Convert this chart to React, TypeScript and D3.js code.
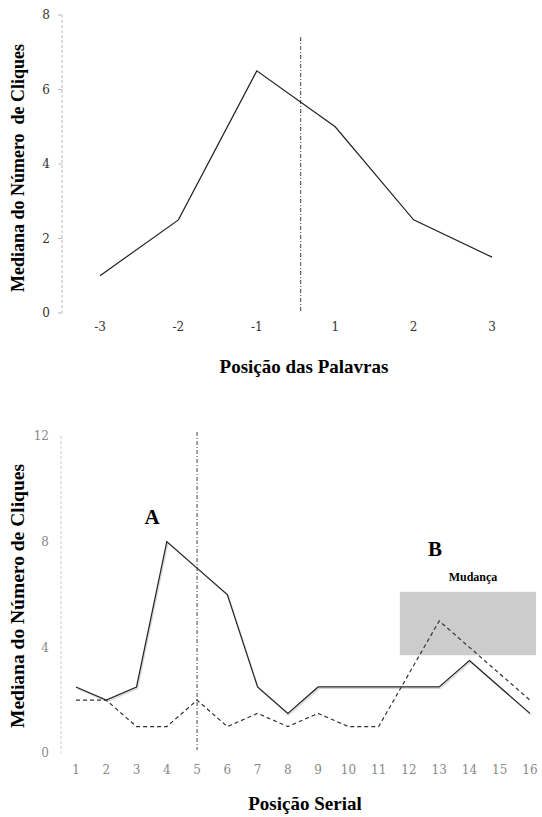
import * as React from "react";
import * as d3 from "d3";

// top panel: median clicks by word position
const wordPositions = ["-3", "-2", "-1", "1", "2", "3"];
const wordMedians = [1, 2.5, 6.5, 5, 2.5, 1.5];
const topTicks = [0, 2, 4, 6, 8];
const topMarkerFrac = 0.56; // marker sits a little past the midpoint of -1 and 1

// bottom panel: median clicks by serial position
const serialPositions = d3.range(1, 17);
const serialSolid = [2.5, 2, 2.5, 8, 7, 6, 2.5, 1.5, 2.5, 2.5, 2.5, 2.5, 2.5, 3.5, 2.5, 1.5];
const serialDashed = [2, 2, 1, 1, 2, 1, 1.5, 1, 1.5, 1, 1, 3, 5, 4, 3, 2];
const bottomTicks = [0, 4, 8, 12];
const changeBox = { x0: 11.7, x1: 16.2, y0: 3.7, y1: 6.1 };

const W = 542;
const H = 817;
const serif = { fontFamily: "Liberation Serif, serif", fontWeight: "bold" as const };
const tickStyle = { fontFamily: "DejaVu Serif, serif", fontSize: "12px" };

function TopPanel() {
  const x = d3.scalePoint<string>().domain(wordPositions).range([100, 492]);
  const y = d3.scaleLinear().domain([0, 8]).range([313, 15]);
  const line = d3
    .line<number>()
    .x((_, i) => x(wordPositions[i])!)
    .y((d) => y(d));
  const midX = x("-1")! + topMarkerFrac * x.step();
  return (
    <g>
      <line x1={62} x2={62} y1={y(8)} y2={y(0)} stroke="#bbb" strokeDasharray="3,2" />
      {topTicks.map((t) => (
        <g key={t}>
          <line x1={58} x2={62} y1={y(t)} y2={y(t)} stroke="#bbb" />
          <text x={50} y={y(t)} dy="0.35em" textAnchor="end" style={tickStyle} fill="#333">
            {t}
          </text>
        </g>
      ))}
      {wordPositions.map((p) => (
        <text key={p} x={x(p)} y={331} textAnchor="middle" style={tickStyle} fill="#333">
          {p}
        </text>
      ))}
      <line x1={midX} x2={midX} y1={37} y2={313} stroke="#444" strokeDasharray="4,2,1,2" />
      <path d={line(wordMedians)!} fill="none" stroke="#222" strokeWidth={1.2} />
      <text x={304} y={373} textAnchor="middle" style={{ ...serif, fontSize: "19px" }}>
        Posição das Palavras
      </text>
      <text
        transform={`translate(24,${168}) rotate(-90)`}
        textAnchor="middle"
        style={{ ...serif, fontSize: "18px", whiteSpace: "pre" }}
      >
        Mediana do Número  de Cliques
      </text>
    </g>
  );
}

function BottomPanel() {
  const x = d3.scaleLinear().domain([1, 16]).range([76, 530]);
  const y = d3.scaleLinear().domain([0, 12]).range([753, 436]);
  const line = d3
    .line<number>()
    .x((_, i) => x(serialPositions[i]))
    .y((d) => y(d));
  return (
    <g>
      <rect
        x={x(changeBox.x0)}
        y={y(changeBox.y1)}
        width={x(changeBox.x1) - x(changeBox.x0)}
        height={y(changeBox.y0) - y(changeBox.y1)}
        fill="#cccccc"
      />
      <line x1={61} x2={61} y1={y(12)} y2={y(0)} stroke="#ccc" strokeDasharray="3,2" />
      {bottomTicks.map((t) => (
        <text key={t} x={49} y={y(t)} dy="0.35em" textAnchor="end" style={tickStyle} fill="#888">
          {t}
        </text>
      ))}
      {serialPositions.map((p) => (
        <text key={p} x={x(p)} y={774} textAnchor="middle" style={tickStyle} fill="#888">
          {p}
        </text>
      ))}
      <line x1={x(5)} x2={x(5)} y1={432} y2={750} stroke="#444" strokeDasharray="4,2,1,2" />
      <path d={line(serialSolid)!} fill="none" stroke="#aaa" strokeWidth={1.2} transform="translate(1,1.5)" opacity={0.5} />
      <path d={line(serialSolid)!} fill="none" stroke="#222" strokeWidth={1.2} />
      <path d={line(serialDashed)!} fill="none" stroke="#333" strokeWidth={1.2} strokeDasharray="4,3" />
      <text x={152} y={524} textAnchor="middle" style={{ ...serif, fontSize: "21px" }}>
        A
      </text>
      <text x={435} y={556} textAnchor="middle" style={{ ...serif, fontSize: "21px" }}>
        B
      </text>
      <text x={473} y={581} textAnchor="middle" style={{ ...serif, fontSize: "12px" }}>
        Mudança
      </text>
      <text x={305} y={810} textAnchor="middle" style={{ ...serif, fontSize: "19px" }}>
        Posição Serial
      </text>
      <text transform={`translate(24,${596}) rotate(-90)`} textAnchor="middle" style={{ ...serif, fontSize: "19.5px" }}>
        Mediana do Número de Cliques
      </text>
    </g>
  );
}

export default function App() {
  return (
    <svg width={W} height={H} style={{ position: "absolute", left: 0, top: 0, background: "#fff" }}>
      <TopPanel />
      <BottomPanel />
    </svg>
  );
}
